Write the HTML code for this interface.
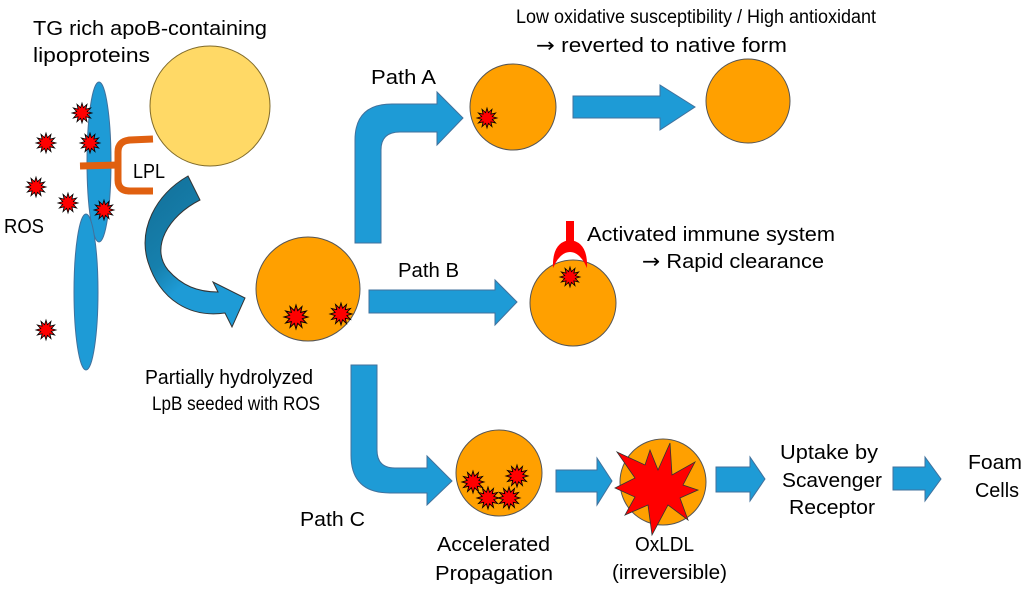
<!DOCTYPE html>
<html><head><meta charset="utf-8"><style>
html,body{margin:0;padding:0;background:#fff;}
svg{display:block;}
text{font-family:"Liberation Sans",sans-serif;font-size:20px;fill:#000;}
.ar{font-family:"DejaVu Sans",sans-serif;}
</style></head><body>
<svg width="1024" height="589" viewBox="0 0 1024 589" xmlns="http://www.w3.org/2000/svg">
<defs>
<polygon id="st" points="10,0 5.31,1.42 8.66,5 3.89,3.89 5,8.66 1.42,5.31 0,10 -1.42,5.31 -5,8.66 -3.89,3.89 -8.66,5 -5.31,1.42 -10,0 -5.31,-1.42 -8.66,-5 -3.89,-3.89 -5,-8.66 -1.42,-5.31 0,-10 1.42,-5.31 5,-8.66 3.89,-3.89 8.66,-5 5.31,-1.42" fill="#f00" stroke="#000" stroke-width="0.8"/>
<linearGradient id="cg" x1="0" y1="0" x2="0.6" y2="1">
<stop offset="0" stop-color="#136f98"/><stop offset="0.5" stop-color="#1680ad"/><stop offset="0.7" stop-color="#1e9bd6"/><stop offset="1" stop-color="#1e9bd6"/>
</linearGradient>
</defs>
<g stroke="#41719c" stroke-width="1" fill="#1e9bd6">
<ellipse cx="99" cy="162" rx="12" ry="80"/>
<ellipse cx="86" cy="292" rx="12" ry="78"/>
</g>
<circle cx="210" cy="106" r="60" fill="#ffd966" stroke="#7f6a2a" stroke-width="1"/>
<g fill="none" stroke="#e06010" stroke-width="7">
<path d="M80,166 L118,165"/>
<path d="M153,139 L130,140 Q118,141 118,152 L118,180 Q118,191 130,191 L153,191"/>
</g>
<use href="#st" transform="translate(82,113)"/>
<use href="#st" transform="translate(46,143)"/>
<use href="#st" transform="translate(90,143)"/>
<use href="#st" transform="translate(36,187)"/>
<use href="#st" transform="translate(68,203)"/>
<use href="#st" transform="translate(104,210)"/>
<use href="#st" transform="translate(46,330)"/>
<path d="M188,176 L200,200 C168,216 150,248 168,270 C182,286 198,292 218,292 L213,282 L245,298 L232,327 L225,313 C190,318 160,300 148,262 C138,230 155,195 188,176 Z" fill="url(#cg)" stroke="#333" stroke-width="1"/>
<circle cx="308" cy="289" r="52" fill="#ffa000" stroke="#555" stroke-width="1"/>
<use href="#st" transform="translate(296,317) scale(1.2)"/>
<use href="#st" transform="translate(341,314) scale(1.1)"/>
<g fill="#1e9bd6" stroke="#41719c" stroke-width="1">
<path d="M355,243 L355,140 Q355,104 392,104 L437,104 L437,92 L463,118 L437,145 L437,132 L400,132 Q381,132 381,150 L381,243 Z"/>
<path d="M573,96 L660,96 L660,85 L695,107 L660,130 L660,118 L573,118 Z"/>
<path d="M369,290 L495,290 L495,280 L517,302 L495,325 L495,313 L369,313 Z"/>
<path d="M351,365 L377,365 L377,450 Q377,468 395,468 L427,468 L427,456 L452,481 L427,505 L427,493 L390,493 Q351,493 351,455 Z"/>
<path d="M556,470 L597,470 L597,458 L612,481 L597,505 L597,492 L556,492 Z"/>
<path d="M716,467 L750,467 L750,457 L765,479 L750,501 L750,492 L716,492 Z"/>
<path d="M893,467 L925,467 L925,457 L941,479 L925,501 L925,490 L893,490 Z"/>
</g>
<circle cx="513" cy="107" r="43" fill="#ffa000" stroke="#555" stroke-width="1"/>
<use href="#st" transform="translate(487,118)"/>
<circle cx="748" cy="101" r="42" fill="#ffa000" stroke="#555" stroke-width="1"/>
<circle cx="573" cy="303" r="43" fill="#ffa000" stroke="#555" stroke-width="1"/>
<rect x="566" y="221" width="8" height="25" fill="#f00"/>
<path d="M553,268 Q552,242 570,240 Q588,242 587,268 Q580,252 570,252 Q560,252 553,268 Z" fill="#f00"/>
<use href="#st" transform="translate(570,277)"/>
<circle cx="499" cy="473" r="43" fill="#ffa000" stroke="#555" stroke-width="1"/>
<use href="#st" transform="translate(473,482) scale(1.1)"/>
<use href="#st" transform="translate(488,498) scale(1.1)"/>
<use href="#st" transform="translate(509,498) scale(1.1)"/>
<use href="#st" transform="translate(517,476) scale(1.1)"/>
<circle cx="663" cy="482" r="43" fill="#ffa000" stroke="#555" stroke-width="1"/>
<polygon points="617,452 645,465 650,450 658,470 670,443 672,475 695,462 683,485 698,490 680,498 688,520 668,505 652,535 648,505 625,515 635,497 615,488 635,478" fill="#f00" stroke="#333" stroke-width="0.8"/>
<g>
<text x="33" y="35" textLength="234" lengthAdjust="spacingAndGlyphs">TG rich apoB-containing</text>
<text x="33" y="62" textLength="117" lengthAdjust="spacingAndGlyphs">lipoproteins</text>
<text x="133" y="178" textLength="32" lengthAdjust="spacingAndGlyphs">LPL</text>
<text x="4" y="233" textLength="40" lengthAdjust="spacingAndGlyphs">ROS</text>
<text x="145" y="384" textLength="168" lengthAdjust="spacingAndGlyphs">Partially hydrolyzed</text>
<text x="152" y="410" style="font-size:19px" textLength="168" lengthAdjust="spacingAndGlyphs">LpB seeded with ROS</text>
<text x="516" y="23" style="font-size:19px" textLength="360" lengthAdjust="spacingAndGlyphs">Low oxidative susceptibility / High antioxidant</text>
<text x="536" y="52" textLength="251" lengthAdjust="spacingAndGlyphs"><tspan class="ar">→</tspan> reverted to native form</text>
<text x="371" y="84" textLength="65" lengthAdjust="spacingAndGlyphs">Path A</text>
<text x="398" y="277" textLength="61" lengthAdjust="spacingAndGlyphs">Path B</text>
<text x="587" y="241" textLength="248" lengthAdjust="spacingAndGlyphs">Activated immune system</text>
<text x="642" y="268" textLength="182" lengthAdjust="spacingAndGlyphs"><tspan class="ar">→</tspan> Rapid clearance</text>
<text x="300" y="526" textLength="65" lengthAdjust="spacingAndGlyphs">Path C</text>
<text x="437" y="551" textLength="113" lengthAdjust="spacingAndGlyphs">Accelerated</text>
<text x="435" y="580" textLength="118" lengthAdjust="spacingAndGlyphs">Propagation</text>
<text x="635" y="551" textLength="59" lengthAdjust="spacingAndGlyphs">OxLDL</text>
<text x="612" y="579" textLength="115" lengthAdjust="spacingAndGlyphs">(irreversible)</text>
<text x="780" y="459" textLength="98" lengthAdjust="spacingAndGlyphs">Uptake by</text>
<text x="782" y="487" textLength="100" lengthAdjust="spacingAndGlyphs">Scavenger</text>
<text x="789" y="514" textLength="86" lengthAdjust="spacingAndGlyphs">Receptor</text>
<text x="968" y="469" textLength="54" lengthAdjust="spacingAndGlyphs">Foam</text>
<text x="975" y="497" textLength="44" lengthAdjust="spacingAndGlyphs">Cells</text>
</g>
</svg>
</body></html>
